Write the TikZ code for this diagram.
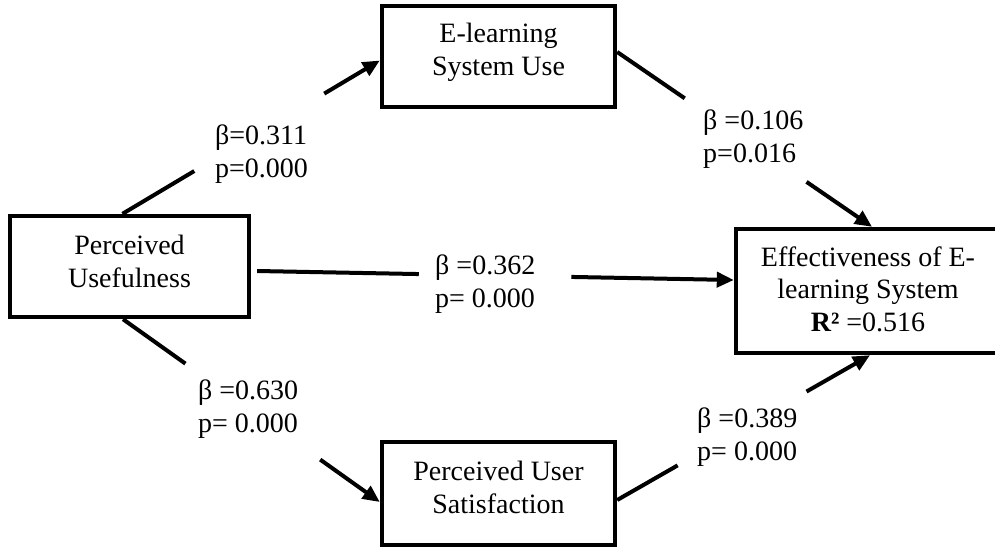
\documentclass[tikz,border=0pt]{standalone}
\usepackage{fontspec}
\setmainfont{Liberation Serif}
\usetikzlibrary{arrows.meta,calc}
\begin{document}
\begin{tikzpicture}[x=1pt,y=-1pt,
  every node/.style={font=\fontsize{28}{32.5}\selectfont},
  box/.style={draw, line width=4.4pt, inner sep=0pt},
  boxtext/.style={align=center, inner sep=0pt},
  lbl/.style={align=left, inner sep=0pt, anchor=north west},
  conn/.style={line width=4pt},
  arr/.style={conn, -{Triangle[length=17pt,width=15pt]}}]
\useasboundingbox (0,0) rectangle (995,547);
\clip (0,0) rectangle (995,547);
% boxes
\node[box, minimum width=239pt, minimum height=101pt,
  label={[boxtext, name=put, yshift=5pt]center:{Perceived\\Usefulness}}] (pu) at (129.5,266.5) {};
\node[box, minimum width=233pt, minimum height=101pt,
  label={[boxtext, name=esut, yshift=4pt]center:{E-learning\\System Use}}] (esu) at (498.5,56.5) {};
\node[box, minimum width=233pt, minimum height=103pt,
  label={[boxtext, name=pust, yshift=6pt]center:{Perceived User\\Satisfaction}}] (pus) at (498.5,493.5) {};
\node[box, minimum width=264pt, minimum height=124pt,
  label={[boxtext, name=eest, yshift=2pt]center:{Effectiveness of E-\\learning System\\\textbf{R²} =0.516}}] (ees) at (868,291) {};
% connector end points
\coordinate (a1s) at ([xshift=-7pt]pu.north);
\coordinate (a1e) at ([yshift=-4pt]esu.west);
\coordinate (a2s) at ([yshift=4.5pt]esu.east);
\coordinate (a2e) at ([xshift=4pt]ees.north);
\coordinate (a3s) at ([xshift=6pt,yshift=-4.5pt]pu.east);
\coordinate (a3e) at ([yshift=11pt]ees.west);
\coordinate (a4s) at ([xshift=-6.5pt]pu.south);
\coordinate (a4e) at ([yshift=-8.5pt]pus.west);
\coordinate (a5s) at ([yshift=-6.5pt]pus.east);
\coordinate (a5e) at ([xshift=2pt]ees.south);
% connectors (interrupted by labels)
\draw[conn] (a1s) -- ($(a1s)!0.279!(a1e)$);
\draw[arr] ($(a1s)!0.784!(a1e)$) -- (a1e);
\draw[conn] (a2s) -- ($(a2s)!0.265!(a2e)$);
\draw[arr] ($(a2s)!0.743!(a2e)$) -- (a2e);
\draw[conn] (a3s) -- ($(a3s)!0.339!(a3e)$);
\draw[arr] ($(a3s)!0.659!(a3e)$) -- (a3e);
\draw[conn] (a4s) -- ($(a4s)!0.243!(a4e)$);
\draw[arr] ($(a4s)!0.768!(a4e)$) -- (a4e);
\draw[conn] (a5s) -- ($(a5s)!0.239!(a5e)$);
\draw[arr] ($(a5s)!0.749!(a5e)$) -- (a5e);
% labels
\node[lbl] (l1) at (215,125) {β=0.311\\p=0.000};
\node[lbl] (l2) at (703,110) {β =0.106\\p=0.016};
\node[lbl] (l3) at (435,255) {β =0.362\\p= 0.000};
\node[lbl] (l4) at (198,380) {β =0.630\\p= 0.000};
\node[lbl] (l5) at (697,408) {β =0.389\\p= 0.000};
\end{tikzpicture}
\end{document}
